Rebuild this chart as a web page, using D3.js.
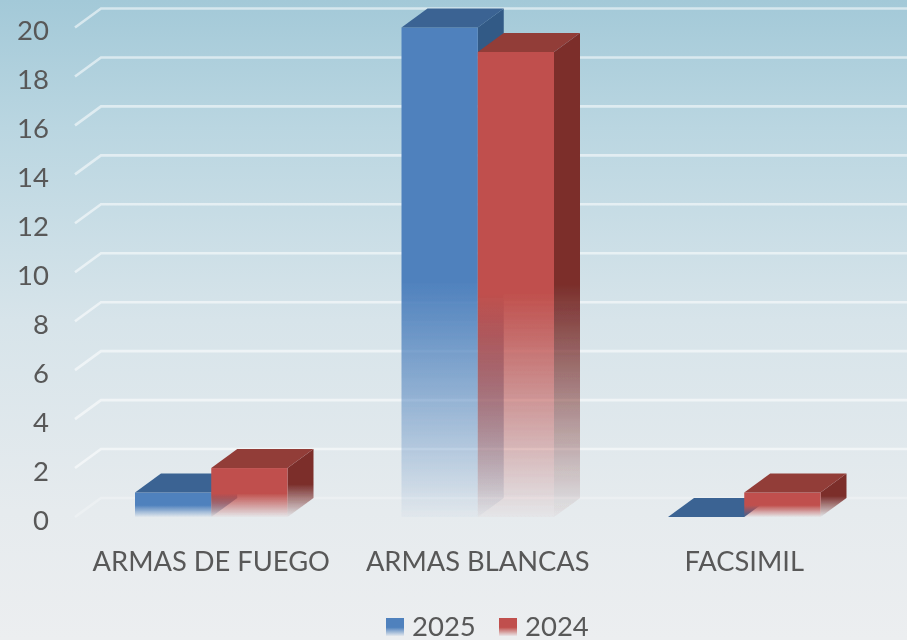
<!DOCTYPE html>
<html><head><meta charset="utf-8">
<script src="https://cdnjs.cloudflare.com/ajax/libs/d3/7.8.5/d3.min.js"></script>
<style>html,body{margin:0;padding:0;background:#eceef0}svg{display:block}text{font-family:Lato,"Open Sans",sans-serif;fill:#595959}</style>
</head><body><svg id="c" width="907" height="640"></svg>
<script>
const categories = ["ARMAS DE FUEGO", "ARMAS BLANCAS", "FACSIMIL"];
const seriesNames = ["2025", "2024"];
const values2025 = [1, 20, 0];
const values2024 = [2, 19, 1];
const yTicks = [0, 2, 4, 6, 8, 10, 12, 14, 16, 18, 20];

const W = 907, H = 640, dx = 26, dy = -19;
const colors = {
  "2025": {front: "#4f81bd", top: "#3a6393", side: "#325a86"},
  "2024": {front: "#c0504d", top: "#923c38", side: "#7b2f2c"}
};
const svg = d3.select("#c");
const defs = svg.append("defs");

const bg = defs.append("linearGradient").attr("id", "bg").attr("x1", 0).attr("y1", 0).attr("x2", 0).attr("y2", 1);
[[0, "#a3c9d8"], [0.2, "#bad6e1"], [0.5, "#d7e4ea"], [0.8, "#e6ebee"], [1, "#eceef0"]]
  .forEach(s => bg.append("stop").attr("offset", s[0]).attr("stop-color", s[1]));
svg.append("rect").attr("width", W).attr("height", H).attr("fill", "url(#bg)");

function blur(id, sd) {
  defs.append("filter").attr("id", id).attr("filterUnits", "userSpaceOnUse")
    .attr("x", 0).attr("y", 0).attr("width", W).attr("height", H)
    .append("feGaussianBlur").attr("stdDeviation", sd);
}
blur("soft", 0.6);
blur("softText", 0.4);

function fade(id, col) {
  const g = defs.append("linearGradient").attr("id", id).attr("x1", 0).attr("y1", 0).attr("x2", 0).attr("y2", 1);
  [[0, 1], [0.52, 1], [1, 0.03]].forEach(s => g.append("stop").attr("offset", s[0]).attr("stop-color", col).attr("stop-opacity", s[1]));
}
seriesNames.forEach(s => {
  fade("f" + s, colors[s].front);
  fade("s" + s, colors[s].side);
});

const x0 = d3.scaleBand().domain(categories).range([78, 877.5]);
const x1 = d3.scaleBand().domain(seriesNames).range([57, 57 + 152.5]);
const y = d3.scaleLinear().domain([0, 20]).range([517, 27.5]);

// gridlines: floor edge + wall
const grid = svg.append("g").attr("fill", "none").attr("stroke", "#ffffff").attr("stroke-width", 2.6).attr("filter", "url(#soft)");
grid.selectAll("path").data(yTicks).join("path")
  .attr("stroke-opacity", d => d === 0 ? 0.25 : 0.55)
  .attr("d", d => {
    const py = y(d);
    return `M${75},${py} L${75 + dx},${py + dy} L${W},${py + dy}`;
  });

// axes
const textLayer = svg.append("g").attr("filter", "url(#softText)");
const yAxis = textLayer.append("g").attr("transform", "translate(57,3.5)")
  .call(d3.axisLeft(y).tickValues(yTicks).tickSize(0).tickPadding(8));
yAxis.select(".domain").remove();
yAxis.selectAll("text").attr("font-size", 27.5).style("font-family", 'Lato,"Open Sans",sans-serif').attr("fill", "#595959");

const xAxis = textLayer.append("g").attr("transform", "translate(0,561)")
  .call(d3.axisBottom(x0).tickSize(0).tickPadding(0));
xAxis.select(".domain").remove();
xAxis.selectAll("text").attr("font-size", 27.3).attr("dy", "0.35em").attr("y", 0).style("font-family", 'Lato,"Open Sans",sans-serif').attr("fill", "#595959");

// bars
const rows = [];
categories.forEach((c, i) => {
  rows.push({c, s: "2025", v: values2025[i]});
  rows.push({c, s: "2024", v: values2024[i]});
});
const bars = svg.append("g").attr("filter", "url(#soft)");

rows.forEach(r => {
  const l = x0(r.c) + x1(r.s), w = x1.bandwidth(), r0 = l + w;
  const t = y(r.v), b = y(0);
  const g = bars.append("g");
  if (r.v > 0) {
    g.append("path").attr("fill", `url(#s${r.s})`)
      .attr("d", `M${r0},${t} L${r0 + dx},${t + dy} L${r0 + dx},${b + dy} L${r0},${b} Z`);
    g.append("rect").attr("x", l).attr("y", t).attr("width", w).attr("height", b - t).attr("fill", `url(#f${r.s})`);
  }
  g.append("path").attr("fill", colors[r.s].top)
    .attr("d", `M${l},${t} L${l + dx},${t + dy} L${r0 + dx},${t + dy} L${r0},${t} Z`);
});

// legend
const legendX = [386, 499];
const leg = textLayer.append("g");
seriesNames.forEach((s, i) => {
  const lg = defs.append("linearGradient").attr("id", "l" + s).attr("x1", 0).attr("y1", 0).attr("x2", 0).attr("y2", 1);
  [[0, 1], [0.52, 1], [1, 0.05]].forEach(p => lg.append("stop").attr("offset", p[0]).attr("stop-color", colors[s].front).attr("stop-opacity", p[1]));
  leg.append("rect").attr("x", legendX[i]).attr("y", 618).attr("width", 18).attr("height", 18).attr("fill", `url(#l${s})`);
  leg.append("text").attr("x", legendX[i] + 26).attr("y", 626.5).attr("dy", "0.35em").attr("font-size", 27.5).text(s);
});
</script></body></html>
